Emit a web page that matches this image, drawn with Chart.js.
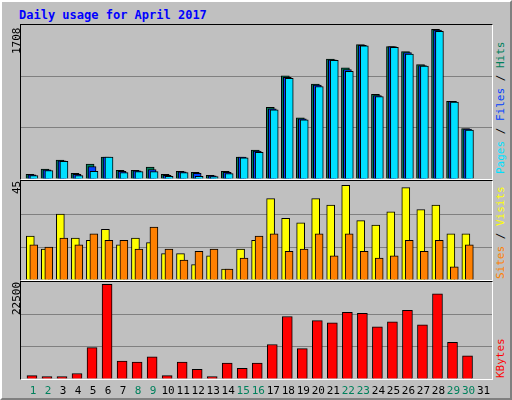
<!DOCTYPE html>
<html><head><meta charset="utf-8">
<script src="https://cdn.jsdelivr.net/npm/chart.js@4/dist/chart.umd.min.js"></script>
<style>
html,body{margin:0;padding:0;background:#c0c0c0;}
#wrap{position:relative;width:512px;height:400px;background:#c0c0c0;box-sizing:border-box;border-left:2px solid #fff;border-top:2px solid #fff;border-right:2px solid #808080;border-bottom:2px solid #808080;font-family:"DejaVu Sans Mono",monospace;}
.panel{position:absolute;box-sizing:border-box;border-top:1px solid #000;border-left:1px solid #000;border-right:1px solid #fff;border-bottom:1px solid #fff;}
.panel canvas{position:absolute;left:0;top:0;}
.title{position:absolute;left:17px;top:6px;font-weight:bold;font-size:12px;color:#0000ff;}
.vl{position:absolute;font-size:11px;transform-origin:0 0;transform:rotate(-90deg);white-space:nowrap;}
.xl{position:absolute;top:382px;font-size:11px;transform:translateX(-50%);}
</style></head><body>
<div id="wrap">
<div class="title">Daily usage for April 2017</div>
<div class="panel" style="left:18px;top:22px;width:473px;height:156px"><canvas id="c1"></canvas></div>
<div class="panel" style="left:18px;top:178px;width:473px;height:101px"><canvas id="c2"></canvas></div>
<div class="panel" style="left:18px;top:279px;width:473px;height:99px"><canvas id="c3"></canvas></div>
<div class="vl" style="left:8px;top:52px;color:#000">1708</div>
<div class="vl" style="left:8px;top:192px;color:#000">45</div>
<div class="vl" style="left:8px;top:313px;color:#000">22500</div>
<div class="vl" style="left:492px;top:172px"><span style="color:#00e0ff">Pages</span><span style="color:#000"> / </span><span style="color:#0040ff">Files</span><span style="color:#000"> / </span><span style="color:#00805c">Hits</span></div>
<div class="vl" style="left:492px;top:277px"><span style="color:#ff8000">Sites</span><span style="color:#000"> / </span><span style="color:#ffff00">Visits</span></div>
<div class="vl" style="left:492px;top:376px;color:#ff0000">KBytes</div>
<div id="xlabels"></div>
</div>
<script>
const days=[1,2,3,4,5,6,7,8,9,10,11,12,13,14,15,16,17,18,19,20,21,22,23,24,25,26,27,28,29,30,31];
const weekend=[1,2,8,9,15,16,22,23,29,30];
const hits=[52,109,210,64,165,243,97,97,131,52,86,75,41,86,243,322,794,1143,678,1053,1330,1232,1491,940,1468,1412,1270,1660,862,558,0];
const files=[45,101,202,52,139,243,86,90,105,41,79,64,34,75,243,311,779,1128,667,1041,1322,1214,1483,925,1468,1401,1259,1652,862,554,0];
const pages=[37,94,195,37,86,243,71,82,82,30,71,30,26,60,236,296,768,1116,656,1026,1315,1195,1476,914,1461,1386,1251,1637,854,543,0];
const visits=[20,14,30,19,18,23,16,19,17,12,12,7,11,5,14,18,37,28,26,37,34,43,27,25,31,42,32,34,21,21,0];
const sites=[16,15,19,16,21,18,18,14,24,14,9,13,14,5,10,20,21,13,14,21,11,21,13,10,11,18,13,18,6,16,0];
const kbytes=[800,560,560,1280,7290,21940,4160,3920,5120,800,3920,2240,560,3680,2480,3680,8000,14490,7050,13530,13050,15450,15210,12090,13290,15930,12570,19780,8490,5360,0];
const maxPages=1708, maxVisits=45, maxKB=22500;

function ds(vals,off,color,w,order){
  return {data:vals.map((v,i)=>({x:days[i]+off,y:v})),backgroundColor:color,borderColor:'#000',borderWidth:1,barThickness:w,grouped:false,order:order};
}
function mk(id,w,h,datasets,max){
  const c=document.getElementById(id);c.width=w;c.height=h;c.style.width=w+'px';c.style.height=h+'px';
  return new Chart(c,{type:'bar',data:{datasets},options:{responsive:false,animation:false,
    layout:{padding:0},plugins:{legend:{display:false},tooltip:{enabled:false}},
    scales:{x:{type:'linear',min:0.27,max:31.63,offset:false,display:false},
      y:{min:0,max:max,display:true,ticks:{display:false,stepSize:max/3},border:{display:false},
        grid:{drawTicks:false,color:ctx=>(ctx.tick&&ctx.tick.value>0&&ctx.tick.value<max)?'#808080':'rgba(0,0,0,0)'}}}}});
}
mk('c1',471,154,[ds(hits,-0.13,'#00805c',8,3),ds(files,0,'#0040ff',8,2),ds(pages,0.13,'#00e0ff',8,1)],maxPages);
mk('c2',471,99,[ds(visits,-0.11,'#ffff00',8,2),ds(sites,0.12,'#ff8000',8,1)],maxVisits);
const ch3=mk('c3',471,97,[ds(kbytes,0,'#ff0000',10,1)],maxKB);
const xl=document.getElementById('xlabels');
days.forEach(d=>{const s=document.createElement('span');s.className='xl';s.textContent=d;
  s.style.left=(19+ch3.scales.x.getPixelForValue(d)+1)+'px';s.style.color=weekend.includes(d)?'#00805c':'#000';xl.appendChild(s);});
</script>
</body></html>
